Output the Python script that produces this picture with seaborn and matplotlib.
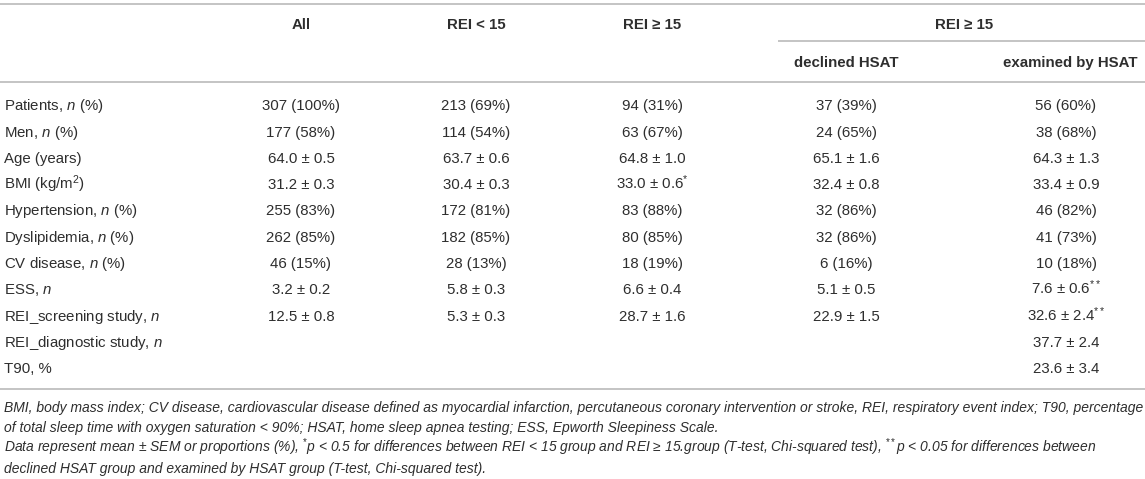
import matplotlib
matplotlib.use("Agg")
import matplotlib.pyplot as plt
import seaborn as sns

# table content
row_labels = [
    "Patients, $\\mathit{n}$ (%)",
    "Men, $\\mathit{n}$ (%)",
    "Age (years)",
    "BMI (kg/m$^{2}$)",
    "Hypertension, $\\mathit{n}$ (%)",
    "Dyslipidemia, $\\mathit{n}$ (%)",
    "CV disease, $\\mathit{n}$ (%)",
    "ESS, $\\mathit{n}$",
    "REI_screening study, $\\mathit{n}$",
    "REI_diagnostic study, $\\mathit{n}$",
    "T90, %",
]
col_headers = ["All", "REI < 15", "REI ≥ 15", "declined HSAT", "examined by HSAT"]
span_header = "REI ≥ 15"

all_pts = ["307 (100%)", "177 (58%)", "64.0 ± 0.5", "31.2 ± 0.3", "255 (83%)",
           "262 (85%)", "46 (15%)", "3.2 ± 0.2", "12.5 ± 0.8", "", ""]
rei_lt15 = ["213 (69%)", "114 (54%)", "63.7 ± 0.6", "30.4 ± 0.3", "172 (81%)",
            "182 (85%)", "28 (13%)", "5.8 ± 0.3", "5.3 ± 0.3", "", ""]
rei_ge15 = ["94 (31%)", "63 (67%)", "64.8 ± 1.0", "33.0 ± 0.6$^{*}$", "83 (88%)",
            "80 (85%)", "18 (19%)", "6.6 ± 0.4", "28.7 ± 1.6", "", ""]
declined = ["37 (39%)", "24 (65%)", "65.1 ± 1.6", "32.4 ± 0.8", "32 (86%)",
            "32 (86%)", "6 (16%)", "5.1 ± 0.5", "22.9 ± 1.5", "", ""]
examined = ["56 (60%)", "38 (68%)", "64.3 ± 1.3", "33.4 ± 0.9", "46 (82%)",
            "41 (73%)", "10 (18%)", "7.6 ± 0.6$^{**}$", "32.6 ± 2.4$^{**}$",
            "37.7 ± 2.4", "23.6 ± 3.4"]
columns = [all_pts, rei_lt15, rei_ge15, declined, examined]

footnotes = [
    "BMI, body mass index; CV disease, cardiovascular disease defined as myocardial infarction, "
    "percutaneous coronary intervention or stroke, REI, respiratory event index; T90, percentage",
    "of total sleep time with oxygen saturation < 90%; HSAT, home sleep apnea testing; "
    "ESS, Epworth Sleepiness Scale.",
    "Data represent mean ± SEM or proportions (%), $^{*}$p < 0.5 for differences between "
    "REI < 15 group and REI ≥ 15.group (T-test, Chi-squared test), $^{**}$p < 0.05 for differences between",
    "declined HSAT group and examined by HSAT group (T-test, Chi-squared test).",
]

sns.set_theme(style="white")
plt.rcParams["font.family"] = ["Liberation Sans", "DejaVu Sans"]
plt.rcParams["mathtext.fontset"] = "custom"
plt.rcParams["mathtext.rm"] = "Liberation Sans"
plt.rcParams["mathtext.it"] = "Liberation Sans:italic"
plt.rcParams["mathtext.bf"] = "Liberation Sans:bold"

TXT = "#2e2e2e"
LINE = "#c4c4c4"
FS = 10.8      # body / header
FS_NOTE = 10.0  # footnotes

fig = plt.figure(figsize=(11.45, 4.79), dpi=100)
ax = fig.add_axes([0, 0, 1, 1])
ax.set_xlim(0, 1145)
ax.set_ylim(479, 0)
ax.axis("off")

col_x = [301, 476, 652, 846, 1066]
row_y0, row_dy = 105, 26.3
BL = 5.2  # centre -> baseline offset

# rules
for y in (4, 82, 389):
    ax.plot([0, 1145], [y, y], color=LINE, lw=1.4, solid_capstyle="butt")
ax.plot([778, 1145], [41, 41], color=LINE, lw=1.4, solid_capstyle="butt")

# headers
for i, h in enumerate(col_headers[:3]):
    ax.text(col_x[i], 24 + BL, h, ha="center", va="baseline", fontsize=FS,
            fontweight="bold", color=TXT)
ax.text(964, 24 + BL, span_header, ha="center", va="baseline",
        fontsize=FS, fontweight="bold", color=TXT)
for i in (3, 4):
    ax.text(col_x[i] + (4 if i == 4 else 0), 62 + BL, col_headers[i], ha="center",
            va="baseline", fontsize=FS, fontweight="bold", color=TXT)

# body
for r, lab in enumerate(row_labels):
    y = row_y0 + r * row_dy + BL
    ax.text(4, y, lab, ha="left", va="baseline", fontsize=FS, color=TXT)
    for c, vals in enumerate(columns):
        if vals[r]:
            ax.text(col_x[c], y, vals[r], ha="center", va="baseline",
                    fontsize=FS, color=TXT)

# footnotes
for k, note in enumerate(footnotes):
    ax.text(4, 407 + k * 20.3 + 4.7, note, ha="left", va="baseline",
            fontsize=FS_NOTE, style="italic", color=TXT)

fig.savefig("out.png", dpi=100)
plt.close(fig)
